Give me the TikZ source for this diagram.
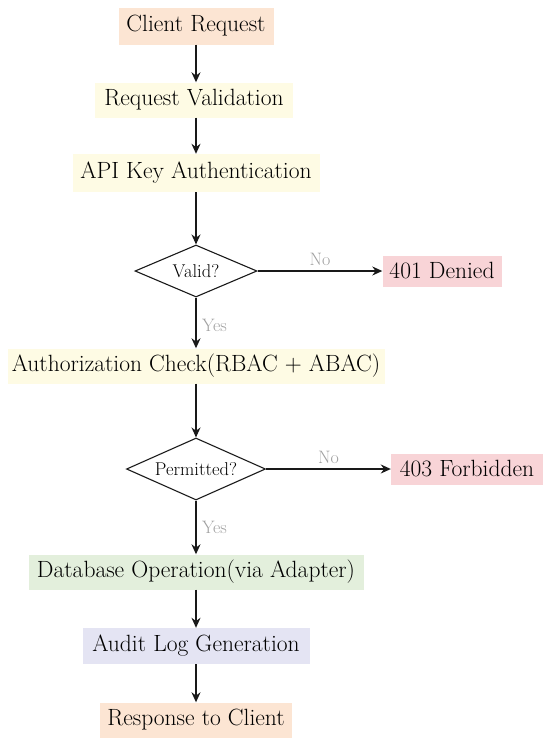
\documentclass[tikz,border=0pt]{standalone}
\usetikzlibrary{shapes.geometric,arrows.meta}
\definecolor{corange}{HTML}{FCE5D3}
\definecolor{cyellow}{HTML}{FEFBE4}
\definecolor{cpink}{HTML}{F8D4D7}
\definecolor{cgreen}{HTML}{E3EFDC}
\definecolor{clav}{HTML}{E4E4F3}
\definecolor{cgray}{HTML}{A0A0A0}
\tikzset{
  box/.style={rectangle, inner sep=0pt, font=\fontsize{23.5}{28}\selectfont, text=black},
  dec/.style={diamond, draw=black!90, line width=1.1pt, aspect=2.35, inner sep=0pt, font=\fontsize{18.5}{22}\selectfont},
  arr/.style={-{Stealth[length=10pt,width=9pt]}, line width=1.4pt, black!90},
  lab/.style={font=\fontsize{18}{21}\selectfont, text=cgray},
}
\begin{document}
\begin{tikzpicture}[x=1pt,y=-1pt]
\useasboundingbox (0,0) rectangle (550,747);
\node[box, fill=corange, minimum width=155pt, minimum height=37pt] (n1) at (196,26) {Client Request};
\node[box, fill=cyellow, minimum width=198pt, minimum height=35pt] (n2) at (194,100) {Request Validation};
\node[box, fill=cyellow, minimum width=247pt, minimum height=38pt] (n3) at (196,173) {API Key Authentication};
\node[dec, minimum width=122pt, minimum height=52pt] (d1) at (196,271) {Valid?};
\node[box, fill=cpink, minimum width=119pt, minimum height=31pt] (e1) at (442,271) {401 Denied};
\node[box, fill=cyellow, minimum width=377pt, minimum height=35pt] (n4) at (196,366) {Authorization Check(RBAC + ABAC)};
\node[dec, minimum width=139pt, minimum height=62pt] (d2) at (196,469) {Permitted?};
\node[box, fill=cpink, minimum width=152pt, minimum height=31pt] (e2) at (467,469) {403 Forbidden};
\node[box, fill=cgreen, minimum width=335pt, minimum height=35pt] (n5) at (196,572) {Database Operation(via Adapter)};
\node[box, fill=clav, minimum width=227pt, minimum height=36pt] (n6) at (196,646) {Audit Log Generation};
\node[box, fill=corange, minimum width=192pt, minimum height=35pt] (n7) at (196,720) {Response to Client};
\draw[arr] (n1.south -| 196,0) -- (n2.north -| 196,0);
\draw[arr] (n2.south -| 196,0) -- (n3.north -| 196,0);
\draw[arr] (n3) -- (d1);
\draw[arr] (d1) -- node[lab, above, yshift=1pt] {No} (e1);
\draw[arr] (d1) -- node[lab, right, xshift=2pt, pos=0.55] {Yes} (n4);
\draw[arr] (n4) -- (d2);
\draw[arr] (d2) -- node[lab, above, yshift=1pt] {No} (e2);
\draw[arr] (d2) -- node[lab, right, xshift=2pt, pos=0.5] {Yes} (n5);
\draw[arr] (n5) -- (n6);
\draw[arr] (n6) -- (n7);
\end{tikzpicture}
\end{document}
